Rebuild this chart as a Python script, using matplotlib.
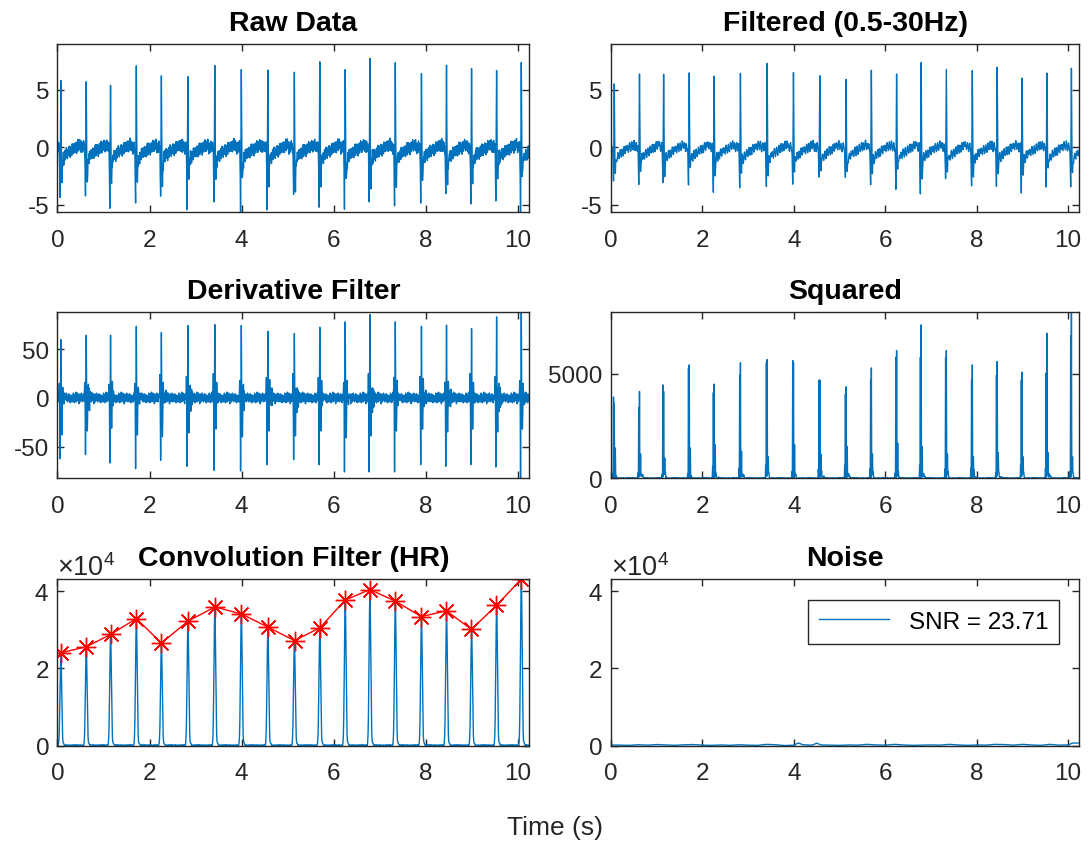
import numpy as np
import matplotlib
matplotlib.use("Agg")
import matplotlib.pyplot as plt

plt.rcParams['font.family'] = ['Liberation Sans', 'DejaVu Sans']
plt.rcParams['mathtext.fontset'] = 'custom'
plt.rcParams['mathtext.rm'] = 'Liberation Sans'
plt.rcParams['axes.unicode_minus'] = False

# ---- values ----
fs = 125
n_samples = 1280

# R-peak times (s), same beats in every panel
beat_times = [0.075, 0.626, 1.155, 1.713, 2.257, 2.83, 3.419, 3.992, 4.566, 5.147,
              5.698, 6.249, 6.785, 7.336, 7.902, 8.445, 8.989, 9.532, 10.075]

# raw data: R peak, Q trough, S trough
raw_r = [5.2, 5.98, 5.49, 6.76, 6.01, 6.27, 6.76, 6.76, 6.27, 6.01,
         6.99, 6.76, 7.25, 6.76, 6.76, 6.99, 6.5, 7.25, 7.49]
raw_q = [-4.77, -4.19, -4.91, -5.4, -4.68, -5.2, -5.2, -5.4, -4.91, -4.48,
         -4.68, -4.91, -4.91, -5.2, -4.68, -4.48, -4.68, -4.68, -5.64]
raw_s = [-2.9, -3.1, -3.2, -3.0, -3.3, -3.0, -3.2, -3.1, -3.0, -3.3,
         -3.0, -3.2, -3.1, -3.0, -3.2, -3.1, -3.0, -3.2, -2.8]

# filtered (0.5-30 Hz)
filt_r = [5.64, 6.33, 6.13, 6.65, 6.01, 6.36, 7.17, 6.73, 6.30, 6.01,
          6.56, 6.73, 7.14, 6.65, 6.42, 6.79, 5.92, 6.79, 6.97]
filt_q = [-3.32, -2.98, -2.69, -3.67, -3.5, -3.67, -3.4, -3.55, -2.92, -3.0,
          -3.5, -3.75, -3.67, -3.0, -3.5, -3.5, -3.67, -3.5, -3.84]
filt_s = [-2.46, -2.2, -2.3, -2.1, -2.4, -2.2, -2.5, -2.3, -2.1, -2.4,
          -2.2, -2.3, -2.5, -2.2, -2.4, -2.1, -2.3, -2.2, -2.5]

# derivative filter: main positive and negative spike per beat
deriv_pos = [59.9, 64.4, 64.4, 73.6, 67.1, 74.3, 75.3, 74.3, 68.5, 66.1,
             72.6, 78.1, 85.6, 78.1, 73.6, 74.7, 71.2, 83.2, 89.2]
deriv_neg = [-62.3, -58.2, -66.8, -72.6, -64.0, -70.2, -74.3, -75.0, -68.5, -63.4,
             -68.5, -76.0, -76.0, -76.0, -68.5, -70.2, -68.5, -70.9, -82.5]

# convolution filter peaks (red stars)
hr_peaks = [24050, 25600, 28800, 32900, 26550, 32200, 35900, 34100, 30700, 27200,
            30500, 37700, 40400, 37400, 33400, 34900, 30100, 36300, 43100]

# noise trace
noise_times = [0.0, 0.2, 0.4, 0.6, 0.8, 1.0, 1.2, 1.4, 1.6, 1.8, 2.0, 2.2, 2.4, 2.6,
               2.8, 3.0, 3.2, 3.4, 3.6, 3.8, 4.0, 4.1, 4.2, 4.4, 4.5, 4.6, 4.8, 5.0,
               5.2, 5.4, 5.6, 5.8, 6.0, 6.2, 6.4, 6.6, 6.8, 7.0, 7.2, 7.4, 7.6, 7.8,
               8.0, 8.2, 8.4, 8.6, 8.8, 9.0, 9.2, 9.4, 9.6, 9.8, 10.0, 10.1, 10.23]
noise_vals = [200, 150, 100, 250, 150, 300, 200, 100, 250, 300, 150, 100, 200, 100,
              250, 150, 100, 350, 250, 50, 150, 700, 250, 150, 650, 200, 150, 100,
              200, 150, 350, 200, 150, 350, 200, 100, 150, 200, 150, 350, 200, 100,
              200, 150, 350, 300, 150, 350, 200, 100, 350, 150, 200, 700, 700]
snr_label = "SNR = 23.71"

# hand-estimated baseline jitter (tiled along the trace)
raw_jitter = [0.18, -0.38, 0.46, -0.12, 0.33, -0.52, 0.08, 0.42, -0.27, 0.6, -0.45, 0.15,
              -0.18, 0.52, -0.33, 0.03, 0.38, -0.6, 0.27, -0.08, 0.45, -0.42, 0.12, -0.22,
              0.57, -0.15, 0.3, -0.48, 0.22, -0.03, 0.4, -0.3, 0.5, -0.39, 0.09, -0.57,
              0.36, -0.14, 0.21, -0.45, 0.54, -0.24, 0.06, 0.32, -0.36, 0.44, -0.16]
filt_jitter = [0.15, 0.3, 0.05, -0.2, -0.35, -0.05, 0.25, 0.4, 0.12, -0.15, -0.38, -0.1,
               0.2, 0.35, 0.0, -0.25, -0.4, -0.12, 0.15, 0.38, 0.22, -0.08, -0.3, -0.18,
               0.08, 0.4, 0.18, -0.12, -0.35, 0.0, 0.3, 0.1, -0.25, -0.38, 0.02, 0.28,
               0.4, 0.1, -0.2, -0.3, 0.05, 0.33, 0.12, -0.1]
deriv_jitter = [2, -4, 5, -2, 3, -5, 1, 4, -3, 6, -4, 1, -2, 5, -3, 0, 4, -6, 2, -1,
                4, -4, 2, -2, 5, -2, 3, -4, 2, 0, 4, -3, 4, -4, 1, -5, 3, -2, 2, -4, 2]
conv_floor = [120, 80, 200, 150, 60, 100, 250, 180, 90, 140, 60, 210, 130, 70, 170,
              100, 240, 150, 80, 120, 190, 60, 110, 160, 90, 220, 140, 70, 130, 180,
              100, 60, 150, 200, 90, 120, 80]

# beat shape templates (offsets in samples around the R peak)
qrs_offsets = [-4, -3, -2, -1, 0, 1, 2, 3, 4, 5, 6]
q_shape = [0.05, 0.5, 1.0, 0.35, 0.0, 0.0, 0.0, 0.0, 0.0, 0.0, 0.0]
r_shape = [0.0, 0.0, 0.0, 0.45, 1.0, 0.4, 0.0, 0.0, 0.0, 0.0, 0.0]
s_shape = [0.0, 0.0, 0.0, 0.0, 0.0, 0.3, 0.75, 1.0, 0.6, 0.45, 0.4]
tail = [-1.0, -1.2, -1.1, -1.0, -0.9, -0.85, -0.8, -0.8, -0.75, -0.7, -0.7, -0.65,
        -0.6, -0.6, -0.55, -0.5, -0.5, -0.45, -0.45, -0.4, -0.4, -0.35, -0.35, -0.3,
        -0.3, -0.25, -0.25, -0.2, -0.2, -0.15, -0.15, -0.1, -0.1, -0.05, -0.05, 0.0,
        0.0, 0.05, 0.05, 0.1, 0.1, 0.15, 0.15, 0.2, 0.2, 0.2, 0.25, 0.25, 0.2, 0.1]
deriv_offsets = [-5, -4, -3, -2, -1, 0, 1, 2, 3, 4, 5, 6, 7, 8, 9, 10, 11, 12]
deriv_pre = [4, 20, -8, 0, 6, 0, 12, -14, -36, -12, 14, 9, -10, 7, -8, 6, -5, 4]
conv_offsets = [-6, -5, -4, -3, -2, -1, 0, 1, 2, 3, 4, 5, 6, 7, 8, 9, 10]
conv_shape = [0.02, 0.07, 0.18, 0.38, 0.62, 0.86, 1.0, 0.9, 0.68, 0.42, 0.2, 0.08,
              0.03, 0.02, 0.015, 0.01, 0.0]


def put(sig, centre, offsets, shape, scale=1.0):
    for o, v in zip(offsets, shape):
        k = centre + o
        if 0 <= k < len(sig):
            sig[k] += v * scale


t = np.arange(n_samples) / fs
beat_idx = np.round(np.array(beat_times) * fs).astype(int)

raw = np.resize(raw_jitter, n_samples).astype(float)
filt = np.resize(filt_jitter, n_samples).astype(float)
deriv = np.resize(deriv_jitter, n_samples).astype(float)
conv = np.resize(conv_floor, n_samples).astype(float)

for i, b in enumerate(beat_idx):
    put(raw, b, qrs_offsets, q_shape, raw_q[i])
    put(raw, b, qrs_offsets, r_shape, raw_r[i])
    put(raw, b, qrs_offsets, s_shape, raw_s[i])
    put(raw, b + 7, range(len(tail)), tail, 0.8)

    put(filt, b, qrs_offsets, q_shape, filt_q[i])
    put(filt, b, qrs_offsets, r_shape, filt_r[i])
    put(filt, b, qrs_offsets, s_shape, filt_s[i])
    put(filt, b + 7, range(len(tail)), tail, 0.85)

    put(deriv, b, deriv_offsets, deriv_pre)
    deriv[b - 2] = deriv_neg[i]
    deriv[b] = deriv_pos[i]

    put(conv, b, conv_offsets, conv_shape, hr_peaks[i])
    conv[b] = hr_peaks[i]

squared = deriv ** 2

# ---- figure ----
blue = '#0072BD'
dark = '#262626'
tick_fs = 17.5
title_fs = 20.5

fig = plt.figure(figsize=(10.91, 8.45), dpi=100)
lefts = [0.0527, 0.5600]
widths = [0.4322, 0.4291]
rows = [(0.7476, 0.1992), (0.4328, 0.1972), (0.1163, 0.1973)]

axes = []
for r in range(3):
    for c in range(2):
        ax = fig.add_axes([lefts[c], rows[r][0], widths[c], rows[r][1]])
        axes.append(ax)

panels = [
    ("Raw Data", raw, (-5.64, 8.96), [-5, 0, 5]),
    ("Filtered (0.5-30Hz)", filt, (-5.64, 8.96), [-5, 0, 5]),
    ("Derivative Filter", deriv, (-82.5, 88.6), [-50, 0, 50]),
    ("Squared", squared, (0, 7960), [0, 5000]),
    ("Convolution Filter (HR)", conv, (0, 43130), [0, 20000, 40000]),
]

for ax, (title, sig, ylim, yt) in zip(axes, panels):
    ax.plot(t, sig, color=blue, lw=1.0)
    ax.set_ylim(*ylim)
    ax.set_yticks(yt)
    ax.set_title(title, fontsize=title_fs, fontweight='bold', pad=10)

axes[4].plot(beat_times, hr_peaks, color='red', lw=1.0, marker=(8, 2, 0),
             markersize=14, markeredgewidth=1.0)

ax = axes[5]
ax.plot(noise_times, noise_vals, color=blue, lw=1.0, label=snr_label)
ax.set_ylim(0, 43130)
ax.set_yticks([0, 20000, 40000])
ax.set_title("Noise", fontsize=title_fs, fontweight='bold', pad=10)
leg = ax.legend(loc='upper right', bbox_to_anchor=(0.957, 0.874), borderaxespad=0,
                fancybox=False, framealpha=1, edgecolor=dark, fontsize=tick_fs,
                handlelength=2.9, borderpad=0.45)
leg.get_frame().set_linewidth(1.0)

for i, ax in enumerate(axes):
    ax.set_xlim(0, 10.24)
    ax.set_xticks([0, 2, 4, 6, 8, 10])
    ax.tick_params(direction='in', top=True, right=True, length=5, width=1.0,
                   colors=dark, labelsize=tick_fs, labelcolor=dark)
    ax.tick_params(axis='x', pad=12)
    ax.tick_params(axis='y', pad=6)
    for sp in ax.spines.values():
        sp.set_color(dark)
        sp.set_linewidth(1.0)
    if i >= 4:
        ax.ticklabel_format(axis='y', style='sci', scilimits=(0, 0), useMathText=True)
        ax.yaxis.get_offset_text().set_fontsize(19.5)
        ax.yaxis.get_offset_text().set_color(dark)

fig.text(0.509, 0.006, "Time (s)", ha='center', va='bottom', fontsize=19, color=dark)

fig.savefig("out.png", dpi=100)
